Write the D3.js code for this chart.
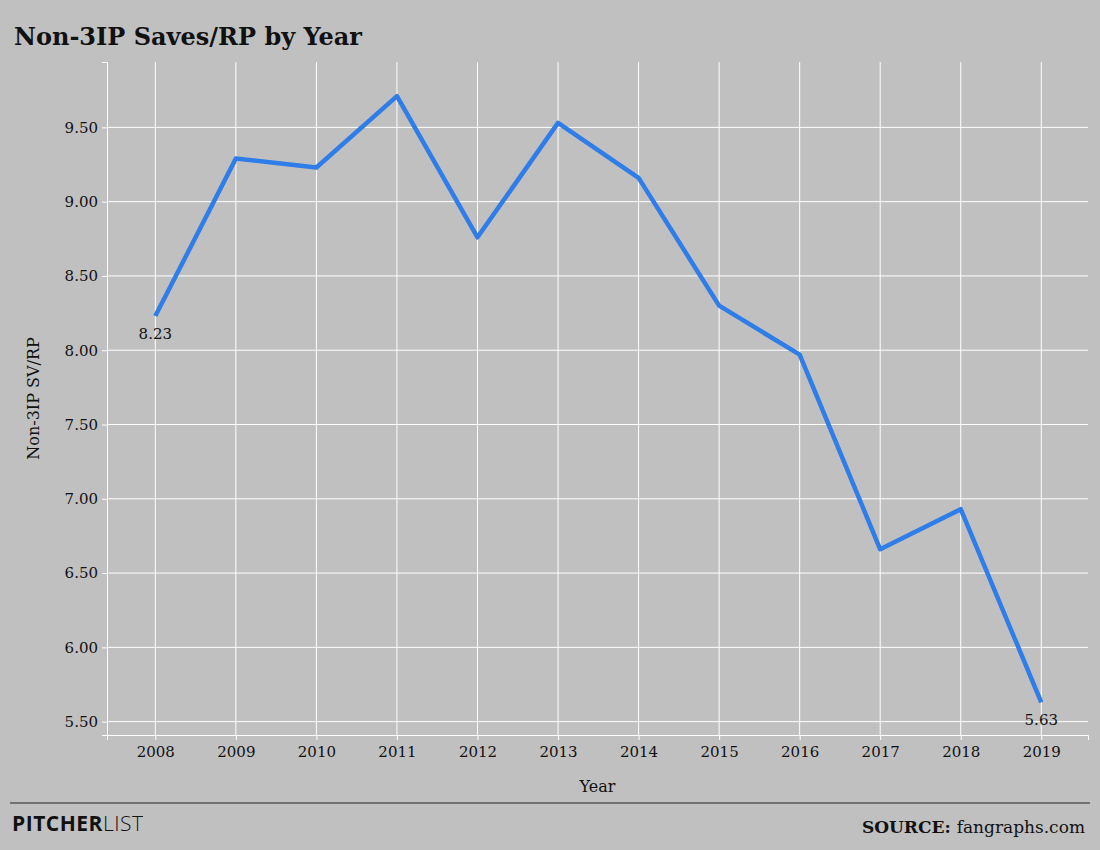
<!DOCTYPE html>
<html><head><meta charset="utf-8">
<script src="https://cdn.jsdelivr.net/npm/d3@7"></script>
<style>
body{margin:0;background:#c0c0c0;}
text{font-family:"DejaVu Serif",serif;fill:#111;}
</style></head>
<body><svg id="chart" width="1100" height="850"></svg>
<script>
// data
const years = [2008, 2009, 2010, 2011, 2012, 2013, 2014, 2015, 2016, 2017, 2018, 2019]
const svPerRp = [8.23, 9.29, 9.23, 9.71, 8.76, 9.53, 9.16, 8.30, 7.97, 6.66, 6.93, 5.63]
const yTicks = [5.5, 6.0, 6.5, 7.0, 7.5, 8.0, 8.5, 9.0, 9.5]

const svg = d3.select('#chart')
const margin = {top: 62, right: 12, bottom: 115, left: 107}
const w = 1100 - margin.left - margin.right
const h = 850 - margin.top - margin.bottom

svg.append('rect').attr('width', 1100).attr('height', 850).attr('fill', '#c0c0c0')

const x = d3.scaleLinear().domain([2007.4, 2019.58]).range([margin.left, margin.left + w])
const y = d3.scaleLinear().domain([5.41, 9.94]).range([margin.top + h, margin.top])

// grid
svg.append('g').selectAll('line').data(yTicks).enter().append('line')
  .attr('x1', margin.left).attr('x2', margin.left + w)
  .attr('y1', d => y(d)).attr('y2', d => y(d))
  .attr('stroke', '#fff').attr('stroke-width', 1)
svg.append('g').selectAll('line').data(years).enter().append('line')
  .attr('x1', d => x(d)).attr('x2', d => x(d))
  .attr('y1', margin.top).attr('y2', margin.top + h)
  .attr('stroke', '#fff').attr('stroke-width', 1)

// axes
const xAxis = svg.append('g').attr('transform', `translate(0,${margin.top + h})`)
  .call(d3.axisBottom(x).tickValues(years).tickFormat(d3.format('d')).tickSize(5).tickPadding(6))
const yAxis = svg.append('g').attr('transform', `translate(${margin.left},0)`)
  .call(d3.axisLeft(y).tickValues(yTicks).tickFormat(d3.format('.2f')).tickSize(5).tickPadding(4))
;[xAxis, yAxis].forEach(a => {
  a.select('.domain').attr('stroke', '#fff')
  a.selectAll('.tick line').attr('stroke', '#fff')
  a.selectAll('text').style('font-family', '"DejaVu Serif",serif').style('font-size', '15px').attr('fill', '#111')
})

// line
const line = d3.line().x((d, i) => x(years[i])).y(d => y(d))
svg.append('path').datum(svPerRp).attr('d', line)
  .attr('fill', 'none').attr('stroke', '#2f7de8').attr('stroke-width', 4.5)
  .attr('stroke-linejoin', 'round')

// end labels
svg.append('text').attr('x', x(years[0])).attr('y', y(svPerRp[0]) + 23)
  .attr('text-anchor', 'middle').style('font-size', '15px').text(svPerRp[0].toFixed(2))
svg.append('text').attr('x', x(years[11])).attr('y', y(svPerRp[11]) + 23)
  .attr('text-anchor', 'middle').style('font-size', '15px').text(svPerRp[11].toFixed(2))

// titles
svg.append('text').attr('x', 14).attr('y', 45).style('font-size', '24px').style('font-weight', 'bold')
  .text('Non-3IP Saves/RP by Year')
svg.append('text').attr('x', margin.left + w / 2).attr('y', 792).attr('text-anchor', 'middle')
  .style('font-size', '16px').text('Year')
svg.append('text').attr('transform', `translate(39,${margin.top + h / 2}) rotate(-90)`)
  .attr('text-anchor', 'middle').style('font-size', '16px').text('Non-3IP SV/RP')

// footer
svg.append('line').attr('x1', 10).attr('x2', 1090).attr('y1', 803).attr('y2', 803)
  .attr('stroke', '#222').attr('stroke-width', 1)
const logo = svg.append('text').attr('x', 12).attr('y', 831)
  .style('font-family', '"Open Sans",sans-serif').style('font-size', '21px').style('letter-spacing', '0.5px')
logo.append('tspan').style('font-weight', 'bold').text('PITCHER')
logo.append('tspan').style('font-weight', '300').text('LIST')
const src = svg.append('text').attr('x', 1085).attr('y', 833).attr('text-anchor', 'end').style('font-size', '17px')
src.append('tspan').style('font-weight', 'bold').text('SOURCE: ')
src.append('tspan').text('fangraphs.com')
</script>
</body></html>
